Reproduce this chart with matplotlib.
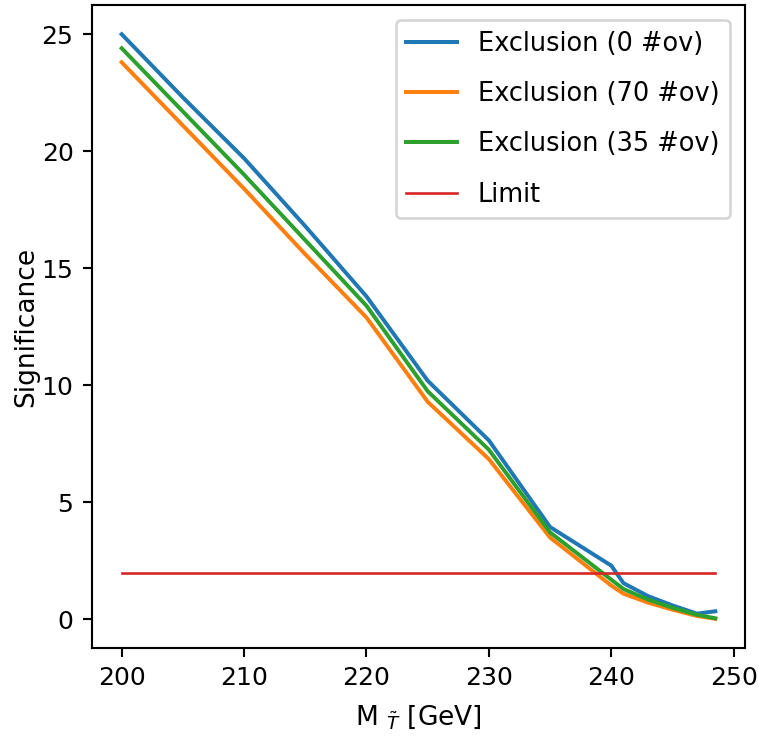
import matplotlib
matplotlib.use("Agg")
import matplotlib.pyplot as plt

# --- Significance vs mass ---

mass = [200, 205, 210, 215, 220, 225, 230, 235, 240, 241, 243, 245, 247, 248.5]
sig_0 = [25.0, 22.3, 19.7, 16.8, 13.8, 10.2, 7.65, 3.95, 2.3, 1.55, 1.0, 0.6, 0.25, 0.35]
sig_70 = [23.8, 21.1, 18.4, 15.6, 12.9, 9.3, 6.85, 3.5, 1.45, 1.1, 0.72, 0.42, 0.15, 0.03]
sig_35 = [24.4, 21.7, 19.0, 16.2, 13.4, 9.75, 7.25, 3.72, 1.7, 1.3, 0.85, 0.5, 0.2, 0.05]
limit = [2] * len(mass)

fig = plt.figure(figsize=(759 / 190, 741 / 190), dpi=190)
ax = fig.add_axes([92 / 759, 93 / 741, 653 / 759, 643 / 741])
ax.plot(mass, sig_0, label='Exclusion (0 #ov)')
ax.plot(mass, sig_70, label='Exclusion (70 #ov)')
ax.plot(mass, sig_35, label='Exclusion (35 #ov)')
ax.plot(mass, limit, linewidth=1, label='Limit')
ax.tick_params(labelsize=9.5)
ax.set_xlabel(r'M $_{\tilde{T}}$ [GeV]', labelpad=5)
ax.set_ylabel('Significance', labelpad=1)
ax.legend(loc='upper right', fontsize=9.7, labelspacing=0.95, borderaxespad=0.6)
fig.savefig("out.png", dpi=190)
plt.close()
